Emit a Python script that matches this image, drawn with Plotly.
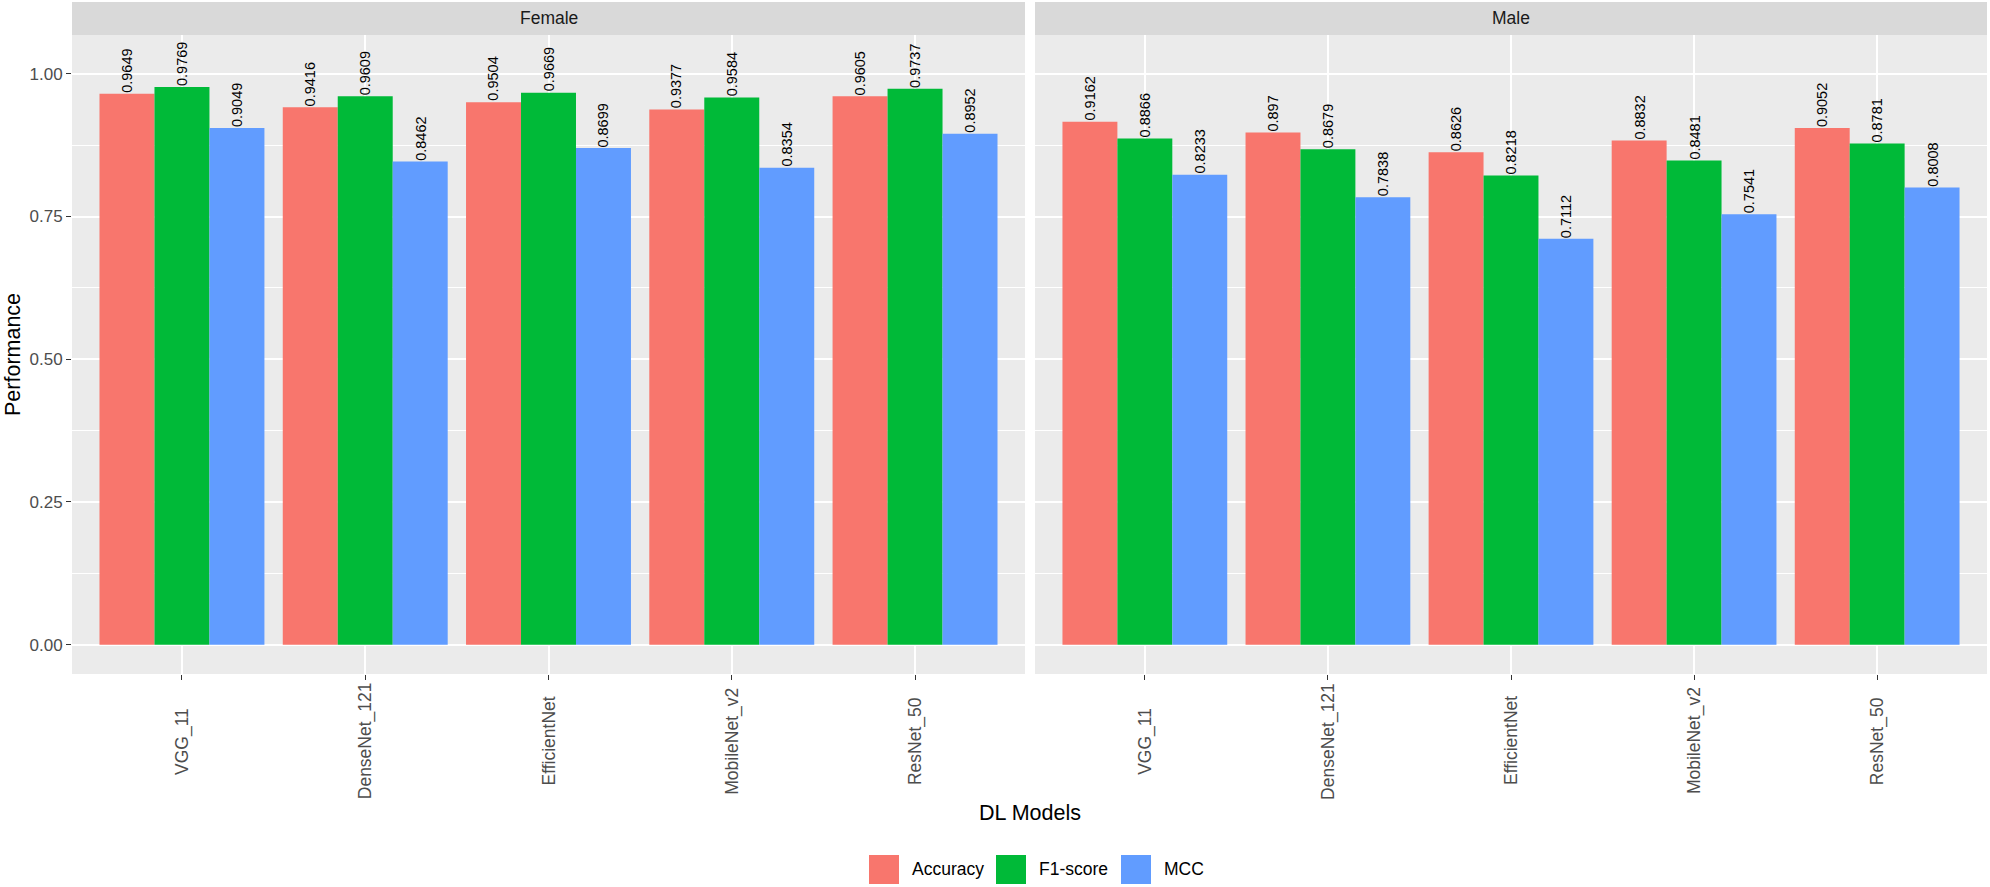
import plotly.graph_objects as go

models = ["VGG_11", "DenseNet_121", "EfficientNet", "MobileNet_v2", "ResNet_50"]
metrics = ["Accuracy", "F1-score", "MCC"]
colors = ["#F8766D", "#00BA38", "#619CFF"]
panels = ["Female", "Male"]

female_accuracy = [0.9649, 0.9416, 0.9504, 0.9377, 0.9605]
female_f1 = [0.9769, 0.9609, 0.9669, 0.9584, 0.9737]
female_mcc = [0.9049, 0.8462, 0.8699, 0.8354, 0.8952]

male_accuracy = [0.9162, 0.897, 0.8626, 0.8832, 0.9052]
male_f1 = [0.8866, 0.8679, 0.8218, 0.8481, 0.8781]
male_mcc = [0.8233, 0.7838, 0.7112, 0.7541, 0.8008]

data = {
    "Female": [female_accuracy, female_f1, female_mcc],
    "Male": [male_accuracy, male_f1, male_mcc],
}

W, H = 1990, 887
L, R, T, B = 72, 1987, 35, 674  # plot area in pixels
PW, PH = R - L, B - T

def px(x):
    return (x - L) / PW

def py(y):
    return (B - y) / PH

FONT = "Liberation Sans, Arial, sans-serif"
dom_left = [0, px(1025)]
dom_right = [px(1035), 1]

BARGAP = 0.1
XRANGE = [-0.6, 4.6]
panel_px = (dom_left[1] - dom_left[0]) * PW
unit_px = panel_px / (XRANGE[1] - XRANGE[0])
bar_w = (1 - BARGAP) / len(metrics)

fig = go.Figure()
axes = [("x", "y"), ("x2", "y2")]
annotations = []
for pi, panel in enumerate(panels):
    xa, ya = axes[pi]
    for mi, metric in enumerate(metrics):
        vals = data[panel][mi]
        fig.add_trace(go.Bar(
            x=models, y=vals, name=metric, xaxis=xa, yaxis=ya,
            marker=dict(color=colors[mi], line=dict(width=0)),
            showlegend=False, offsetgroup=str(mi),
        ))
        shift = (mi - (len(metrics) - 1) / 2) * bar_w * unit_px
        for m, v in zip(models, vals):
            annotations.append(dict(
                text=str(v), xref=xa, yref=ya, x=m, y=v, xshift=shift, yshift=0,
                xanchor="center", yanchor="bottom", textangle=-90,
                showarrow=False, borderpad=0,
                font=dict(family=FONT, size=14.5, color="black"),
            ))

yrange = [-0.0513, 1.068]
common_x = dict(
    type="category", range=XRANGE, showgrid=True, gridcolor="white",
    gridwidth=2, ticks="outside", ticklen=5, tickcolor="#333333", tickwidth=1,
    showticklabels=False, zeroline=False, showline=False,
)
common_y = dict(
    range=yrange, dtick=0.25, tick0=0, showgrid=True, gridcolor="white",
    gridwidth=2, zeroline=False, showline=False,
    minor=dict(dtick=0.125, tick0=0, showgrid=True, gridcolor="white", gridwidth=1),
)
fig.update_layout(
    width=W, height=H,
    margin=dict(l=L, r=W - R, t=T, b=H - B, pad=0),
    paper_bgcolor="white", plot_bgcolor="#EBEBEB",
    barmode="group", bargap=BARGAP, bargroupgap=0,
    xaxis=dict(domain=dom_left, anchor="y", **common_x),
    xaxis2=dict(domain=dom_right, anchor="y2", **common_x),
    yaxis=dict(domain=[0, 1], anchor="x", ticks="outside", ticklen=5,
               tickcolor="#333333", tickformat=".2f",
               tickfont=dict(family=FONT, size=17, color="#4D4D4D"), **common_y),
    yaxis2=dict(domain=[0, 1], anchor="x2", matches="y", showticklabels=False,
                ticks="", **common_y),
    showlegend=False,
    font=dict(family=FONT),
)

shapes = []
# strips
for pi, panel in enumerate(panels):
    dom = dom_left if pi == 0 else dom_right
    shapes.append(dict(type="rect", xref="paper", yref="paper",
                       x0=dom[0], x1=dom[1], y0=py(35), y1=py(2),
                       fillcolor="#D9D9D9", line=dict(width=0), layer="below"))
    annotations.append(dict(text=panel, xref="paper", yref="paper",
                            x=(dom[0] + dom[1]) / 2, y=py(18.5),
                            xanchor="center", yanchor="middle", showarrow=False,
                            font=dict(family=FONT, size=17.5, color="#1A1A1A")))
    xr = "x" if pi == 0 else "x2"
    for m in models:
        annotations.append(dict(text=m, xref=xr, yref="paper", x=m, y=py(741),
                                xanchor="center", yanchor="middle", textangle=-90,
                                showarrow=False,
                                font=dict(family=FONT, size=17.5, color="#4D4D4D")))

# axis titles
annotations.append(dict(text="Performance", xref="paper", yref="paper",
                        x=px(13), y=py(355), textangle=-90, showarrow=False,
                        xanchor="center", yanchor="middle",
                        font=dict(family=FONT, size=21.5, color="black")))
annotations.append(dict(text="DL Models", xref="paper", yref="paper",
                        x=px(1030), y=py(813), showarrow=False,
                        xanchor="center", yanchor="middle",
                        font=dict(family=FONT, size=21.5, color="black")))

# legend
key_x = [869, 996, 1121]
for mi, metric in enumerate(metrics):
    kx = key_x[mi]
    shapes.append(dict(type="rect", xref="paper", yref="paper",
                       x0=px(kx), x1=px(kx + 30), y0=py(884), y1=py(855),
                       fillcolor=colors[mi], line=dict(width=0)))
    annotations.append(dict(text=metric, xref="paper", yref="paper",
                            x=px(kx + 41), y=py(869.5), xanchor="left",
                            yanchor="middle", showarrow=False,
                            font=dict(family=FONT, size=17.5, color="black")))

fig.update_layout(shapes=shapes, annotations=annotations)
fig.write_html("out.html", config={"displayModeBar": False},
               post_script="document.body.style.margin='0';document.body.style.overflow='hidden';")
